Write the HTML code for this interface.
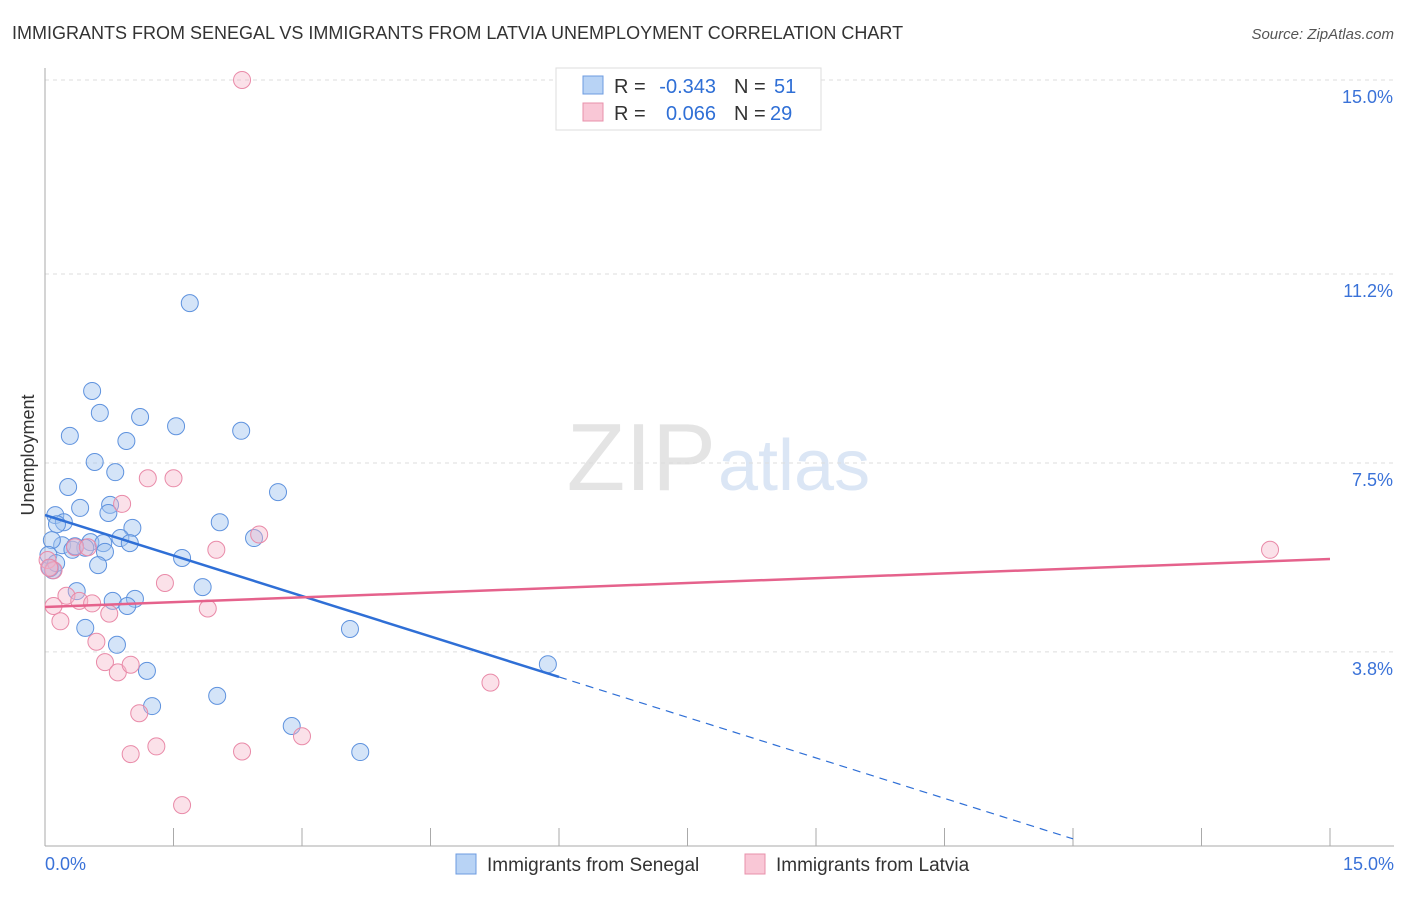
<!DOCTYPE html>
<html><head><meta charset="utf-8"><style>
body{margin:0;background:#fff;font-family:"Liberation Sans",sans-serif}
svg text{font-family:"Liberation Sans",sans-serif}
</style></head><body>
<svg width="1406" height="892">
<text x="12" y="39" font-size="18" fill="#333">IMMIGRANTS FROM SENEGAL VS IMMIGRANTS FROM LATVIA UNEMPLOYMENT CORRELATION CHART</text>
<text x="1394" y="39" font-size="15" fill="#555" font-style="italic" text-anchor="end">Source: ZipAtlas.com</text>
<text x="716" y="490" font-size="96" fill="#e4e4e4" text-anchor="end" font-family="Liberation Serif">ZIP</text>
<text x="718" y="490" font-size="72" fill="#dbe6f5">atlas</text>
<g id="grid"></g>
<g id="axes"></g>
<g id="pts"></g>
<g id="lines"></g>
<text x="34" y="455" font-size="18" fill="#333" transform="rotate(-90 34 455)" text-anchor="middle">Unemployment</text>
<text x="45" y="870" font-size="18" fill="#3a72d8">0.0%</text>
<text x="1394" y="870" font-size="18" fill="#3a72d8" text-anchor="end">15.0%</text>
<g>
<rect x="556" y="68" width="265" height="62" fill="#fff" stroke="#ddd"/>
<rect x="583" y="76" width="20" height="18" fill="#b8d3f5" stroke="#6c9be0"/>
<rect x="583" y="103" width="20" height="18" fill="#f9c7d6" stroke="#e890ab"/>
<text x="614" y="93" font-size="20" fill="#333">R =</text>
<text x="716" y="93" font-size="20" fill="#2f6fd6" text-anchor="end">-0.343</text>
<text x="734" y="93" font-size="20" fill="#333">N =</text>
<text x="774" y="93" font-size="20" fill="#2f6fd6">51</text>
<text x="614" y="120" font-size="20" fill="#333">R =</text>
<text x="716" y="120" font-size="20" fill="#2f6fd6" text-anchor="end">0.066</text>
<text x="734" y="120" font-size="20" fill="#333">N =</text>
<text x="770" y="120" font-size="20" fill="#2f6fd6">29</text>
</g>
<g>
<rect x="456" y="854" width="20" height="20" fill="#b8d3f5" stroke="#6c9be0"/>
<text x="487" y="871" font-size="19" fill="#333">Immigrants from Senegal</text>
<rect x="745" y="854" width="20" height="20" fill="#f9c7d6" stroke="#e890ab"/>
<text x="776" y="871" font-size="19" fill="#333">Immigrants from Latvia</text>
</g>
</svg>
<script>
const yTicks=[15.0,11.2,7.5,3.8];
const yTickLabels=["15.0%","11.2%","7.5%","3.8%"];
const xTicks=[0,1.5,3,4.5,6,7.5,9,10.5,12,13.5,15];
const senegalX=[0.55,0.64,1.11,0.29,0.95,1.53,2.29,1.69,0.58,0.82,0.27,2.72,0.41,0.76,0.74,0.12,0.22,0.14,1.02,2.04,0.88,0.53,0.99,0.20,0.68,0.47,0.70,0.08,0.32,1.60,0.62,0.09,0.06,2.44,1.84,0.37,1.05,0.79,0.96,0.47,0.84,3.56,1.19,1.25,2.01,2.88,3.68,5.87,0.04,0.13,0.35];
const senegalY=[8.91,8.48,8.40,8.03,7.93,8.22,8.13,10.63,7.52,7.32,7.03,6.93,6.62,6.68,6.52,6.48,6.34,6.30,6.23,6.34,6.03,5.95,5.93,5.89,5.93,5.84,5.76,5.99,5.80,5.64,5.50,5.40,5.44,6.03,5.07,4.99,4.84,4.80,4.70,4.27,3.94,4.25,3.43,2.74,2.94,2.35,1.84,3.56,5.70,5.54,5.87];
const latviaX=[2.3,1.2,1.5,0.9,2.5,2.0,0.35,0.5,1.4,0.03,0.1,0.05,0.25,0.4,0.55,0.1,0.18,1.9,0.75,0.6,0.7,0.85,1.0,1.1,5.2,3.0,2.3,1.3,1.0,1.6,14.3];
const latviaY=[15.0,7.2,7.2,6.7,6.1,5.8,5.85,5.85,5.15,5.6,5.4,5.45,4.9,4.8,4.75,4.7,4.4,4.65,4.55,4.0,3.6,3.4,3.55,2.6,3.2,2.15,1.85,1.95,1.8,0.8,5.8];
const xs=v=>45+v/15*1285, ys=v=>846-v*51.07;
const NS="http://www.w3.org/2000/svg";
function mk(t,a,p){const e=document.createElementNS(NS,t);for(const k in a)e.setAttribute(k,a[k]);document.getElementById(p).appendChild(e);return e;}
yTicks.forEach((v,i)=>{
 const g=mk('line',{x1:45,x2:1394,y1:ys(v),y2:ys(v),stroke:'#ddd','stroke-dasharray':'4,4'},'grid');
 
 
 const t=mk('text',{x:1393,y:ys(v)+23,'font-size':18,fill:'#3a72d8','text-anchor':'end'},'grid');
 t.textContent=yTickLabels[i];
 
 
});
const ax=mk('line',{x1:45,x2:1394,y1:846,y2:846,stroke:'#aaa'},'axes');


const ay=mk('line',{x1:45,x2:45,y1:68,y2:846,stroke:'#aaa'},'axes');


xTicks.forEach(v=>{const l=mk('line',{x1:xs(v),x2:xs(v),y1:828,y2:846,stroke:'#aaa'},'axes');
 
 });
senegalX.forEach((x,i)=>{const c=mk('circle',{cx:xs(x),cy:ys(senegalY[i]),r:8.5,fill:'rgba(160,196,240,0.45)',stroke:'#5e92de','stroke-width':1},'pts');
 
 });
latviaX.forEach((x,i)=>{const c=mk('circle',{cx:xs(x),cy:ys(latviaY[i]),r:8.5,fill:'rgba(246,180,200,0.4)',stroke:'#e98aa8','stroke-width':1},'pts');
 
 });
const bA=6.48,bB=(3.31-6.48)/6;
const l1=mk('line',{x1:xs(0),y1:ys(bA),x2:xs(6),y2:ys(bA+bB*6),stroke:'#2f6fd6','stroke-width':2.5},'lines');


const xe=12.0;
const l2=mk('line',{x1:xs(6),y1:ys(bA+bB*6),x2:xs(xe),y2:ys(bA+bB*xe),stroke:'#2f6fd6','stroke-width':1.2,'stroke-dasharray':'8,6'},'lines');


const l3=mk('line',{x1:xs(0),y1:ys(4.68),x2:xs(15),y2:ys(5.62),stroke:'#e5628c','stroke-width':2.5},'lines');


</script>
</body></html>
